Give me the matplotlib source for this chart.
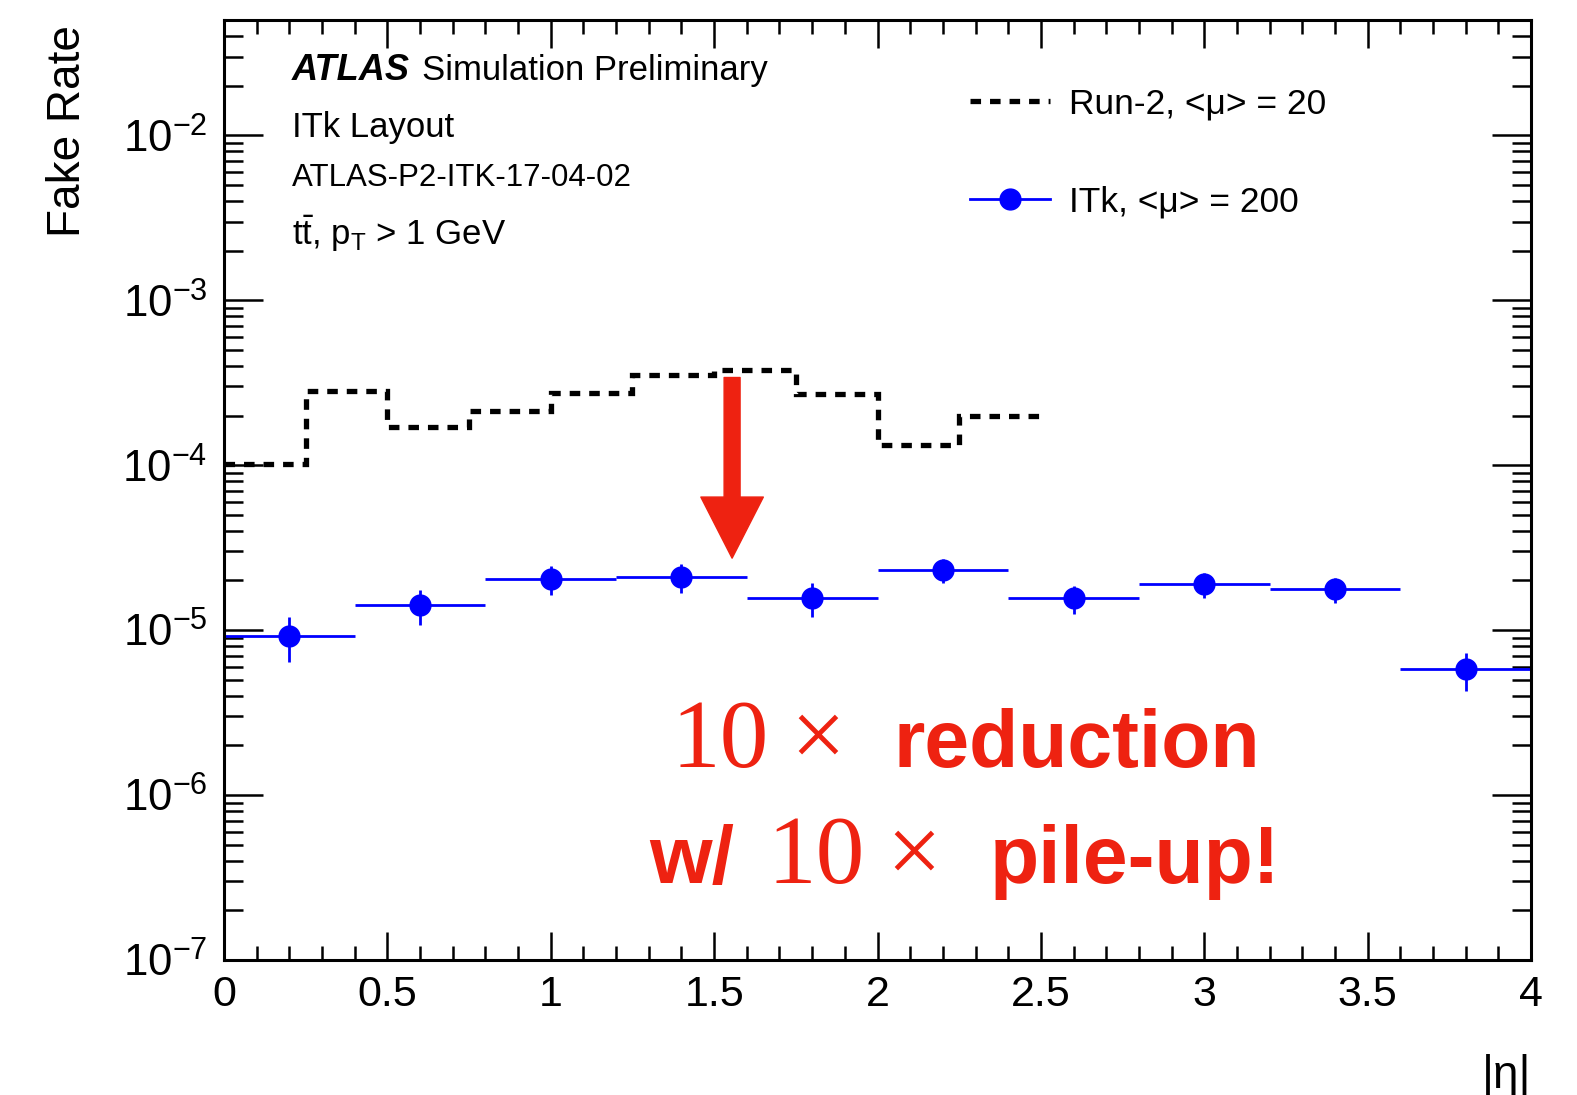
import numpy as np
import matplotlib
matplotlib.use('Agg')
import matplotlib.pyplot as plt
from matplotlib.lines import Line2D
from matplotlib.ticker import LogLocator, MultipleLocator, FuncFormatter, NullFormatter

plt.rcParams['font.family'] = ['Liberation Sans', 'DejaVu Sans']
plt.rcParams['mathtext.fontset'] = 'custom'
plt.rcParams['mathtext.rm'] = 'Liberation Sans'
plt.rcParams['mathtext.it'] = 'Liberation Sans:italic'
plt.rcParams['mathtext.bf'] = 'Liberation Sans:bold'
plt.rcParams['mathtext.default'] = 'regular'

# Run-2 fake rate (<mu> = 20), |eta| bins of 0.25
run2_edges = [0.0, 0.25, 0.5, 0.75, 1.0, 1.25, 1.5, 1.75, 2.0, 2.25, 2.5]
run2_rate = [1.02e-4, 2.80e-4, 1.70e-4, 2.12e-4, 2.73e-4,
             3.51e-4, 3.77e-4, 2.69e-4, 1.32e-4, 1.98e-4]

# ITk fake rate (<mu> = 200), |eta| bins of 0.4
itk_eta = [0.2, 0.6, 1.0, 1.4, 1.8, 2.2, 2.6, 3.0, 3.4, 3.8]
itk_rate = [9.2e-6, 1.42e-5, 2.04e-5, 2.10e-5, 1.56e-5,
            2.31e-5, 1.56e-5, 1.90e-5, 1.77e-5, 5.8e-6]
itk_err = [2.8e-6, 3.4e-6, 4.0e-6, 4.3e-6, 3.6e-6,
           3.7e-6, 3.0e-6, 3.3e-6, 3.0e-6, 1.5e-6]
itk_binhalf = 0.2

RED = '#ee2211'
DASH = (0, (2.0, 1.7))
W, H = 1577, 1095


def fx(px):
    return px / W


def fy(py):
    return 1 - py / H


fig = plt.figure(figsize=(15.77, 10.95), dpi=100)
ax = fig.add_axes([fx(224), fy(960), fx(1531) - fx(224), fy(20) - fy(960)])

ax.stairs(run2_rate, run2_edges, baseline=None, color='black', lw=3.8, linestyle=DASH)
ax.errorbar(itk_eta, itk_rate, xerr=itk_binhalf, yerr=itk_err, fmt='o',
            color='blue', ms=15, elinewidth=2, capsize=0)

ax.set_yscale('log')
ax.set_xlim(0, 4)
ax.set_ylim(1e-7, 0.05)

ax.xaxis.set_major_locator(MultipleLocator(0.5))
ax.xaxis.set_minor_locator(MultipleLocator(0.1))
ax.xaxis.set_major_formatter(FuncFormatter(lambda v, p: f'{v:g}'))
ax.yaxis.set_major_locator(LogLocator(base=10, numticks=20))
ax.yaxis.set_minor_locator(LogLocator(base=10, subs=np.arange(2, 10), numticks=20))
ax.yaxis.set_minor_formatter(NullFormatter())

ax.tick_params(which='both', direction='in', top=True, right=True, width=1.8)
ax.tick_params(axis='x', which='major', length=20, labelsize=31, pad=11)
ax.tick_params(axis='x', which='minor', length=10)
ax.tick_params(axis='y', which='major', length=28, labelsize=31.5, pad=12)
ax.tick_params(axis='y', which='minor', length=14)
for s in ax.spines.values():
    s.set_linewidth(2.2)

fig.text(fx(68), fy(25), 'Fake Rate', rotation=90, ha='center', va='top', fontsize=33)
fig.text(fx(1531), fy(1088), '|η|', ha='right', va='baseline', fontsize=33)

# labels in the top-left corner
fig.text(fx(292), fy(80), 'ATLAS', fontsize=26, fontweight='bold', fontstyle='italic',
         va='baseline')
fig.text(fx(422), fy(80), 'Simulation Preliminary', fontsize=25, va='baseline')
fig.text(fx(292), fy(137), 'ITk Layout', fontsize=25, va='baseline')
fig.text(fx(292), fy(186), 'ATLAS-P2-ITK-17-04-02', fontsize=22.5, va='baseline')
fig.text(fx(292), fy(245), r'$t\bar{t}$, $p_{T}$ > 1 GeV', fontsize=25, va='baseline')

handles = [
    Line2D([], [], color='black', lw=3.8, linestyle=DASH),
    Line2D([], [], color='blue', lw=2, marker='o', ms=15),
]
labels = ['Run-2, <μ> = 20', 'ITk, <μ> = 200']
ax.legend(handles, labels, loc='upper left', bbox_to_anchor=(fx(970), fy(87)),
          bbox_transform=fig.transFigure, frameon=False, fontsize=25.5,
          handlelength=2.25, handletextpad=0.55, labelspacing=1.85, borderpad=0,
          borderaxespad=0, numpoints=1)

# arrow and message
arrow_x = 1.555
ax.annotate('', xy=(arrow_x, 2.73e-5), xytext=(arrow_x, 3.4e-4),
            arrowprops=dict(width=11.5, headwidth=45, headlength=44,
                            color=RED, shrink=0))

fig.text(fx(671), fy(767), '10', fontsize=70, family='Liberation Serif', color=RED,
         va='baseline')
fig.text(fx(790), fy(767), '×', fontsize=70, family='Liberation Serif', color=RED,
         va='baseline')
fig.text(fx(893), fy(767), 'reduction', fontsize=58, fontweight='bold', color=RED,
         va='baseline')
fig.text(fx(649), fy(883), 'w/', fontsize=58, fontweight='bold', color=RED,
         va='baseline')
fig.text(fx(768), fy(883), '10', fontsize=70, family='Liberation Serif', color=RED,
         va='baseline')
fig.text(fx(886), fy(883), '×', fontsize=70, family='Liberation Serif', color=RED,
         va='baseline')
fig.text(fx(990), fy(883), 'pile-up!', fontsize=58, fontweight='bold', color=RED,
         va='baseline')

fig.savefig('out.png', dpi=100)
